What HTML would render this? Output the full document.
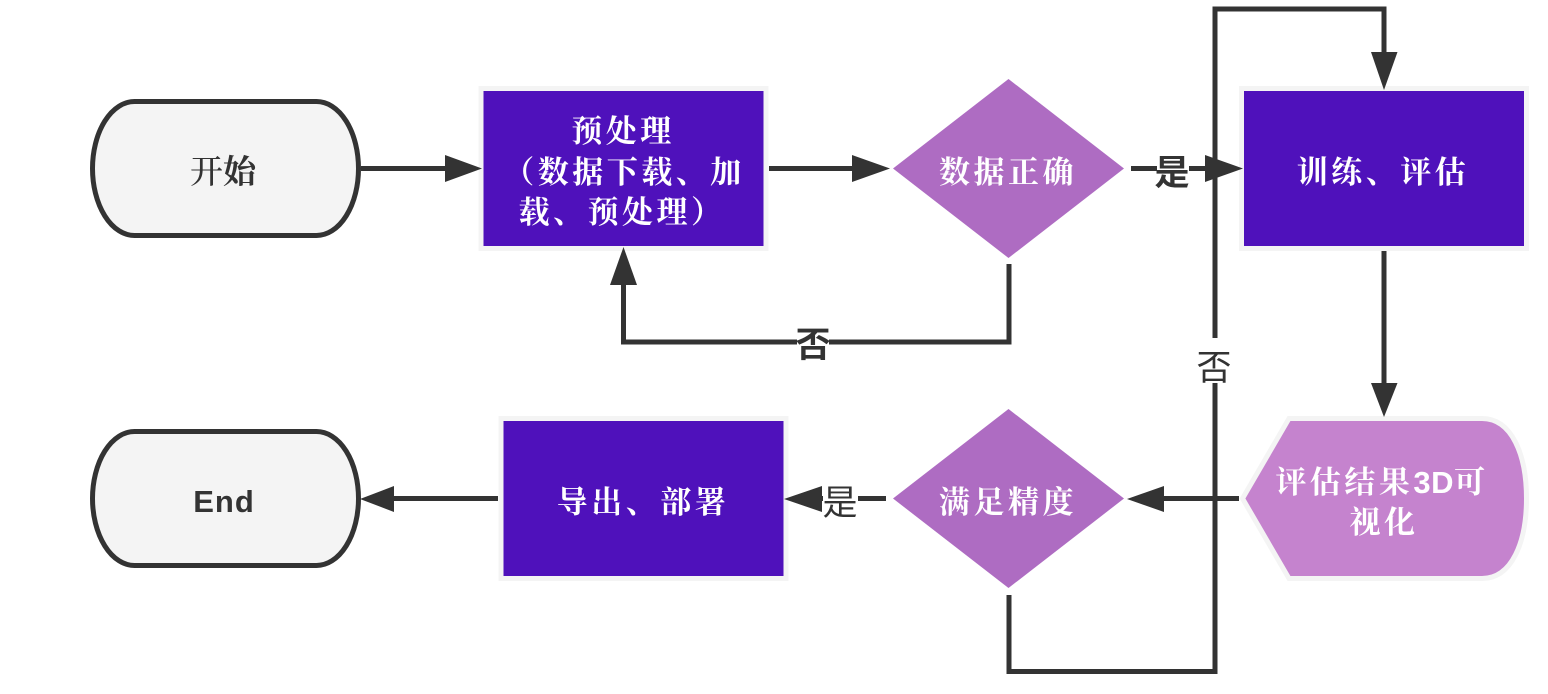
<!DOCTYPE html>
<html><head><meta charset="utf-8"><style>
html,body{margin:0;padding:0;background:#fff;width:1548px;height:694px;overflow:hidden}
svg{display:block}
text{font-family:"Liberation Sans","Noto Sans CJK SC",sans-serif;}
.w{fill:#fff;font-size:31px;font-weight:700;letter-spacing:3.5px;font-family:"Liberation Sans","Noto Serif CJK SC",serif}
.d{fill:#333;font-size:35px}
.l{fill:none;stroke:#333;stroke-width:5}
</style></head><body>
<svg width="1548" height="694" viewBox="0 0 1548 694" xmlns="http://www.w3.org/2000/svg">
<rect x="92.500" y="101.500" width="266" height="134" rx="42" ry="67" fill="#f4f4f4" stroke="#333" stroke-width="5"/>
<rect x="92.500" y="431.500" width="266" height="134" rx="42" ry="67" fill="#f4f4f4" stroke="#333" stroke-width="5"/>
<rect x="481" y="88.500" width="285" height="160" fill="#4f11bb" stroke="#f4f4f4" stroke-width="5"/>
<rect x="1241.500" y="88.500" width="285" height="160" fill="#4f11bb" stroke="#f4f4f4" stroke-width="5"/>
<rect x="501" y="418.500" width="285" height="160" fill="#4f11bb" stroke="#f4f4f4" stroke-width="5"/>
<polygon points="1008.500,79 1124,168.500 1008.500,258 893,168.500" fill="#ae6cc2"/>
<polygon points="1008.500,409 1124,498.500 1008.500,588 893,498.500" fill="#ae6cc2"/>
<path d="M1289,418.500 H1482 C1512,418.500 1526.500,455 1526.500,498.500 C1526.500,542 1512,578.500 1482,578.500 H1289 L1242.500,498.500 Z" fill="#c583ce" stroke="#f4f4f4" stroke-width="5"/>
<path class="l" d="M361,168.500 H446"/>
<path class="l" d="M769,168.500 H853"/>
<path class="l" d="M1131,168.500 H1206"/>
<path class="l" d="M1009,264 V342 H623.500 V284"/>
<path class="l" d="M1384,251 V384"/>
<path class="l" d="M1239,498.500 H1163"/>
<path class="l" d="M886,498.500 H821"/>
<path class="l" d="M498,498.500 H393"/>
<path class="l" d="M1009,595 V671.500 H1215 V9 H1384 V53"/>
<rect x="1190" y="338" width="50" height="45" fill="#fff"/>
<rect x="1157" y="150" width="32" height="38" fill="#fff"/>
<rect x="797" y="326" width="32" height="34" fill="#fff"/>
<rect x="823" y="482" width="35" height="38" fill="#fff"/>
<g fill="#333">
<polygon points="445,155 482,168.500 445,182"/>
<polygon points="852,155 890,168.500 852,182"/>
<polygon points="1205,155 1243,168.500 1205,182"/>
<polygon points="610,285 623.500,247 637,285"/>
<polygon points="1371,52 1397.500,52 1384,90"/>
<polygon points="1371,383 1397.500,383 1384,417"/>
<polygon points="1164,486 1127,499 1164,512"/>
<polygon points="822,486 784,499 822,512"/>
<polygon points="394,486 360,499 394,512"/>
</g>
<line x1="1215" y1="145" x2="1215" y2="190" stroke="#333" stroke-width="5"/>
<text x="223" y="183" text-anchor="middle" fill="#333" font-size="33" font-weight="500" style="font-family:'Liberation Sans','Noto Serif CJK SC',serif">开<tspan font-weight="700">始</tspan></text>
<text x="224" y="512" text-anchor="middle" fill="#333" font-size="31" font-weight="700" letter-spacing="1">End</text>
<text class="w" x="623" y="142" text-anchor="middle">预处理</text>
<text class="w" x="624" y="183" text-anchor="middle">（数据下载、加</text>
<text class="w" x="622" y="223" text-anchor="middle">载、预处理）</text>
<text class="w" x="1008" y="183" text-anchor="middle">数据正确</text>
<text class="w" x="1383" y="183" text-anchor="middle">训练、评估</text>
<text class="w" x="1008" y="513" text-anchor="middle">满足精度</text>
<text class="w" x="643" y="513" text-anchor="middle">导出、部署</text>
<text class="w" x="1382" y="493" text-anchor="middle">评估结果<tspan letter-spacing="0.5" font-size="31">3D</tspan>可</text>
<text class="w" x="1384" y="533" text-anchor="middle">视化</text>
<text class="d" x="1172" y="185" text-anchor="middle" font-weight="700" font-size="34">是</text>
<text class="d" x="813" y="357" text-anchor="middle" font-weight="700" font-size="34">否</text>
<text class="d" x="1214" y="380" text-anchor="middle">否</text>
<text class="d" x="840" y="515" text-anchor="middle">是</text>
</svg>
</body></html>
